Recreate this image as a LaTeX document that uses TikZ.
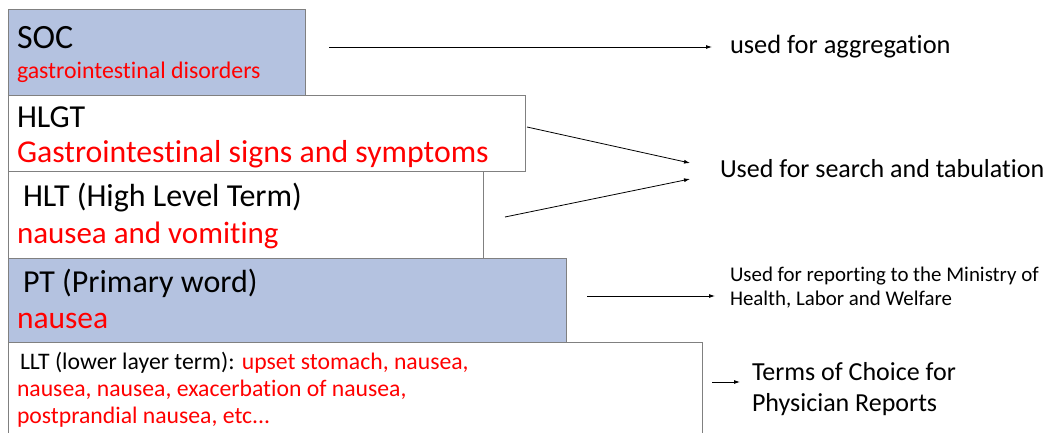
\documentclass[tikz,border=0pt]{standalone}
\usepackage{fontspec}
\setmainfont{Carlito}[Ligatures={NoCommon}]
\usetikzlibrary{arrows.meta}
\definecolor{boxblue}{HTML}{B4C2E0}
\definecolor{boxline}{HTML}{808080}
\definecolor{termred}{HTML}{FF0000}
\begin{document}
\begin{tikzpicture}[x=1pt,y=-1pt,
  level/.style={draw=boxline,line width=0.8pt,anchor=north west,inner sep=0pt,outer sep=0pt},
  txt/.style={anchor=base west,inner sep=0pt,outer sep=0pt},
  red/.style={text=termred},
  use/.style={-{Latex[length=6pt,width=4pt]},line width=0.8pt}]
\useasboundingbox (0,0) rectangle (1048,433);
\begin{scope}
\clip (0,0) rectangle (1048,433);
% hierarchy boxes, top to bottom
\node[level,fill=boxblue,minimum width=297pt,minimum height=86pt] (soc) at (8,9) {};
\node[level,fill=white,minimum width=517pt,minimum height=76pt] (hlgt) at (8,95) {};
\node[level,fill=white,minimum width=475pt,minimum height=87pt] (hlt) at (8,171) {};
\node[level,fill=boxblue,minimum width=558pt,minimum height=84pt] (pt) at (8,258) {};
\node[level,fill=white,minimum width=694pt,minimum height=120pt] (llt) at (8,342) {};
\end{scope}
% box texts
\node[txt,font=\fontsize{34}{36}\selectfont] (socA) at (17,49) {SOC};
\node[txt,red,font=\fontsize{23.8}{26}\selectfont] (socB) at (17,79) {gastrointestinal disorders};
\node[txt,font=\fontsize{32}{34}\selectfont] (hlgtA) at (17,127) {HLGT};
\node[txt,red,font=\fontsize{31.8}{34}\selectfont] (hlgtB) at (17,162) {Gastrointestinal signs and symptoms};
\node[txt,font=\fontsize{32}{34}\selectfont] (hltA) at (23,206) {HLT (High Level Term)};
\node[txt,red,font=\fontsize{31}{34}\selectfont] (hltB) at (17,243) {nausea and vomiting};
\node[txt,font=\fontsize{32}{34}\selectfont] (ptA) at (23,292) {PT (Primary word)};
\node[txt,red,font=\fontsize{31.5}{34}\selectfont] (ptB) at (17,328) {nausea};
\node[txt,font=\fontsize{23.7}{26}\selectfont] (lltA) at (20,369) {LLT (lower layer term): \textcolor{termred}{upset stomach, nausea,}};
\node[txt,red,font=\fontsize{23.7}{26}\selectfont] (lltB) at (17,396) {nausea, nausea, exacerbation of nausea,};
\node[txt,red,font=\fontsize{23.7}{26}\selectfont] (lltC) at (17,423) {postprandial nausea, etc...};
% uses of each level
\node[txt,font=\fontsize{26.4}{28}\selectfont] (aggr) at (730,54) {used for aggregation};
\node[txt,font=\fontsize{26}{28}\selectfont] (search) at (720,177) {Used for search and tabulation};
\node[txt,font=\fontsize{20.9}{24}\selectfont] (reportA) at (730,281) {Used for reporting to the Ministry of};
\node[txt,font=\fontsize{20.9}{24}\selectfont] (reportB) at (730,305) {Health, Labor and Welfare};
\node[txt,font=\fontsize{26}{28}\selectfont] (choiceA) at (752,380) {Terms of Choice for};
\node[txt,font=\fontsize{26}{28}\selectfont] (choiceB) at (752,411) {Physician Reports};
% connector end points
\coordinate (a1) at (329,47);
\coordinate (a2) at (712,47);
\coordinate (b1) at (527,127);
\coordinate (b2) at (690,163);
\coordinate (c1) at (505,217);
\coordinate (c2) at (690,179);
\coordinate (d1) at (587,296);
\coordinate (d2) at (715,296);
\coordinate (e1) at (712,382);
\coordinate (e2) at (740,382);
\draw[use] (a1) -- (a2);
\draw[use] (b1) -- (b2);
\draw[use] (c1) -- (c2);
\draw[use] (d1) -- (d2);
\draw[use] (e1) -- (e2);
\end{tikzpicture}
\end{document}
